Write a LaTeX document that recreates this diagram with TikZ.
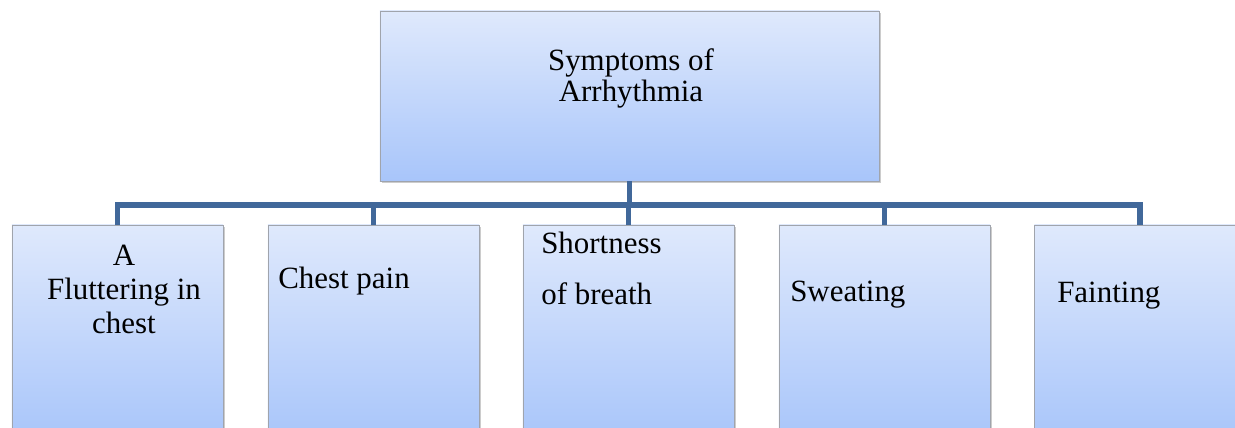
\documentclass[tikz,border=0pt]{standalone}
\usepackage{fontspec}
\setmainfont{Liberation Serif}
\usepackage{xcolor}
\usetikzlibrary{shadows,positioning}

\definecolor{boxtop}{HTML}{DFE9FC}
\definecolor{boxbot}{HTML}{A8C5FA}
\definecolor{boxedge}{HTML}{A0A4AC}
\definecolor{linkblue}{HTML}{41689A}

\begin{document}
\begin{tikzpicture}[
    x=0.025cm, y=-0.025cm,
    symbox/.style={draw=boxedge, line width=0.6pt, top color=boxtop, bottom color=boxbot, inner sep=0pt,
      drop shadow={shadow xshift=1.5pt, shadow yshift=-1.5pt, opacity=0.4}},
    topbox/.style={symbox, minimum width=12.475cm, minimum height=4.25cm},
    childbox/.style={symbox, minimum width=5.275cm, minimum height=5.4cm},
    link/.style={draw=linkblue, line width=3.6pt},
    lbl/.style={font=\fontsize{22}{24}\selectfont, inner sep=0pt},
  ]
    \useasboundingbox (0,0) rectangle (1235,427);
    % boxes
    \node[topbox] (top) at (629.5,96) {};
    \foreach \i/\x in {1/117.5, 2/373.5, 3/628.5, 4/884.5, 5/1140} {
      \node[childbox] (c\i) at (\x,333) {};
    }
    % connectors
    \coordinate (bus) at (0,205);
    \draw[link] (top.south) -- (top.south |- bus);
    \draw[link] (c1.north) -- (c1.north |- bus) -- (c5.north |- bus) -- (c5.north);
    \foreach \i in {2,3,4} { \draw[link] (c\i.north) -- (c\i.north |- bus); }
    % texts
    \node[lbl, align=center, anchor=north, font=\fontsize{22}{22.7}\selectfont] (toptext) at (631,48) {Symptoms of\\Arrhythmia};
    \node[lbl, align=center, anchor=north] (t1) at (124,245) {A\\Fluttering in\\chest};
    \node[lbl, anchor=north west] (t2) at (278,267) {Chest pain};
    \node[lbl, align=left, anchor=north west] (t3) at (541,232) {Shortness\\[12pt]of breath};
    \node[lbl, anchor=north west] (t4) at (790,281) {Sweating};
    \node[lbl, anchor=north west] (t5) at (1057,282) {Fainting};
\end{tikzpicture}
\end{document}
